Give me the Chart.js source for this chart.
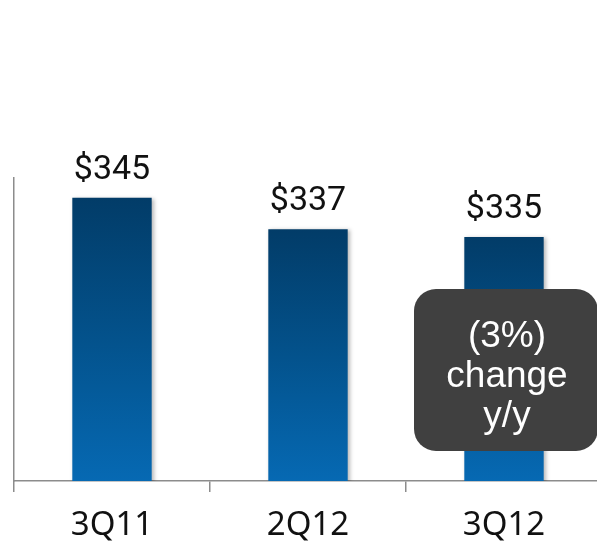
<!DOCTYPE html>
<html>
<head>
<meta charset="utf-8">
<script src="https://cdn.jsdelivr.net/npm/chart.js@4.4.0/dist/chart.umd.min.js"></script>
<style>
  html, body { margin: 0; padding: 0; background: #fff; overflow: hidden; }
  #wrap { width: 597px; height: 542px; overflow: hidden; }
</style>
</head>
<body>
<div id="wrap"><canvas id="myChart" width="602" height="542"></canvas></div>
<script>
"use strict";

// chart data
const quarters = ["3Q11", "2Q12", "3Q12"];
const revenue = [345, 337, 335];
const calloutLines = ["(3%)", "change", "y/y"];

const AXIS_GREY = "#8c8c8c";

// per-bar vertical gradient, dark at the top
function barGradient(context) {
  const chart = context.chart;
  const area = chart.chartArea;
  if (!area) return "#02528f";
  const yTop = chart.scales.y.getPixelForValue(context.raw);
  const g = chart.ctx.createLinearGradient(0, yTop, 0, area.bottom);
  g.addColorStop(0, "#023c68");
  g.addColorStop(0.5, "#03528c");
  g.addColorStop(1, "#0669b3");
  return g;
}

// value labels above bars, soft shadow and the callout box
const decorations = {
  id: "decorations",
  beforeDatasetsDraw(chart) {
    const ctx = chart.ctx;
    ctx.save();
    ctx.shadowColor = "rgba(0,0,0,0.28)";
    ctx.shadowBlur = 4;
    ctx.shadowOffsetX = 2;
    ctx.shadowOffsetY = 1;
  },
  afterDatasetsDraw(chart) {
    const ctx = chart.ctx;
    ctx.restore();

    // value labels
    const meta = chart.getDatasetMeta(0);
    ctx.save();
    ctx.fillStyle = "#111";
    ctx.font = "34px Roboto";
    ctx.textAlign = "center";
    ctx.textBaseline = "alphabetic";
    meta.data.forEach((bar, i) => {
      ctx.fillText("$" + revenue[i], bar.x, bar.y - 19);
    });
    ctx.restore();

    // callout
    const x = 414, y = 289, w = 184, h = 162;
    ctx.save();
    ctx.fillStyle = "#404040";
    ctx.beginPath();
    ctx.roundRect(x, y, w, h, 22);
    ctx.fill();
    ctx.fillStyle = "#fff";
    ctx.font = "37px 'Liberation Sans'";
    ctx.textAlign = "center";
    calloutLines.forEach((line, i) => {
      ctx.fillText(line, 507, 347 + i * 40);
    });
    ctx.restore();
  }
};

const config = {
  type: "bar",
  data: {
    labels: quarters,
    datasets: [{
      data: revenue,
      backgroundColor: barGradient,
      borderWidth: 0,
      categoryPercentage: 1,
      barPercentage: 0.405
    }]
  },
  options: {
    responsive: false,
    animation: false,
    events: [],
    layout: { padding: { left: 14, top: 178, right: 0, bottom: 0 } },
    plugins: {
      legend: { display: false },
      tooltip: { enabled: false }
    },
    scales: {
      x: {
        grid: {
          drawOnChartArea: false,
          drawTicks: true,
          tickLength: 11,
          tickColor: AXIS_GREY,
          lineWidth: 1.5
        },
        border: { display: true, color: AXIS_GREY, width: 1.5 },
        ticks: {
          color: "#111",
          font: { family: "'Noto Sans'", size: 33 },
          padding: 14
        },
        afterFit: (scale) => { scale.height = 61; }
      },
      y: {
        min: 273,
        max: 350,
        grid: { display: false, drawTicks: false },
        border: { display: true, color: AXIS_GREY, width: 1.5 },
        ticks: { display: false },
        afterFit: (scale) => { scale.width = 0; }
      }
    }
  },
  plugins: [decorations]
};

new Chart(document.getElementById("myChart"), config);
</script>
</body>
</html>
